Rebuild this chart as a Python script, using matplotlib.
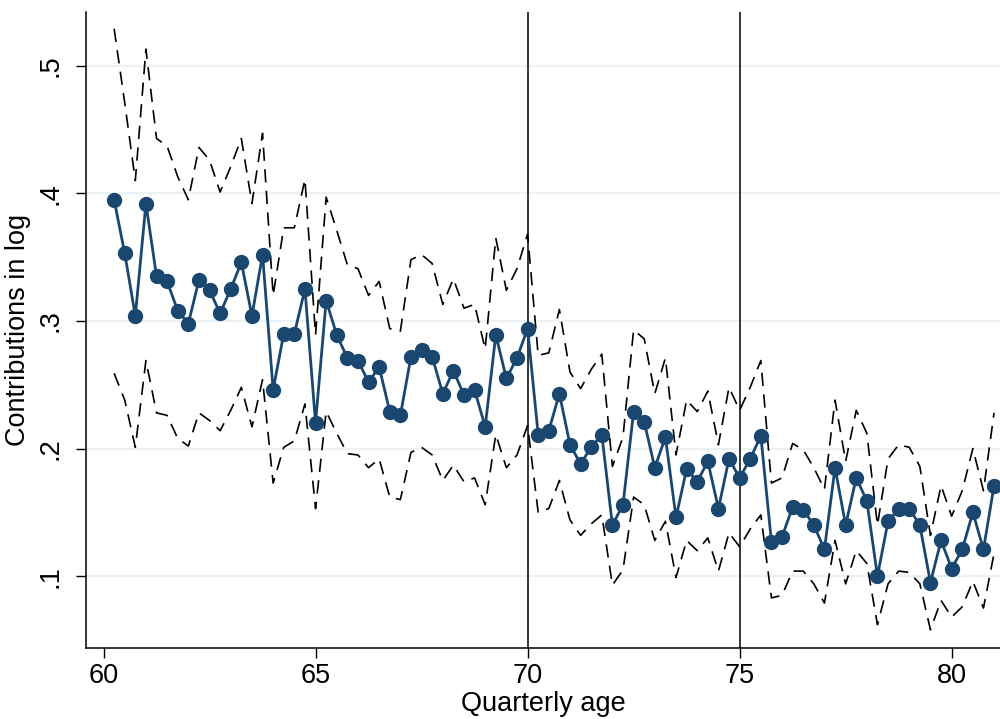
import matplotlib
matplotlib.use('Agg')
import matplotlib.pyplot as plt
import numpy as np

plt.rcParams['font.family'] = ['Liberation Sans', 'DejaVu Sans']

# quarterly age 60.25 .. 81
age = np.arange(60.25, 81.01, 0.25)

mean = [0.395, 0.353, 0.304, 0.392, 0.335, 0.331, 0.308, 0.298,
        0.332, 0.324, 0.306, 0.325, 0.346, 0.304, 0.352, 0.246,
        0.290, 0.290, 0.325, 0.220, 0.316, 0.289, 0.271, 0.269,
        0.252, 0.264, 0.229, 0.226, 0.272, 0.277, 0.272, 0.243,
        0.261, 0.242, 0.246, 0.217, 0.289, 0.255, 0.271, 0.294,
        0.211, 0.214, 0.243, 0.203, 0.188, 0.201, 0.211, 0.140,
        0.156, 0.229, 0.221, 0.185, 0.209, 0.146, 0.184, 0.174,
        0.190, 0.153, 0.192, 0.177, 0.192, 0.210, 0.127, 0.131,
        0.154, 0.152, 0.140, 0.121, 0.185, 0.140, 0.177, 0.159,
        0.100, 0.143, 0.153, 0.153, 0.140, 0.095, 0.128, 0.106,
        0.121, 0.150, 0.121, 0.171]

upper = [0.529, 0.471, 0.410, 0.513, 0.443, 0.437, 0.413, 0.395,
         0.436, 0.426, 0.401, 0.421, 0.443, 0.392, 0.447, 0.320,
         0.373, 0.373, 0.411, 0.289, 0.397, 0.371, 0.344, 0.341,
         0.320, 0.331, 0.294, 0.292, 0.348, 0.352, 0.345, 0.313,
         0.333, 0.310, 0.313, 0.278, 0.365, 0.324, 0.341, 0.368,
         0.273, 0.275, 0.309, 0.260, 0.247, 0.262, 0.274, 0.186,
         0.209, 0.293, 0.286, 0.243, 0.271, 0.195, 0.238, 0.229,
         0.245, 0.203, 0.248, 0.230, 0.248, 0.269, 0.173, 0.177,
         0.204, 0.199, 0.185, 0.168, 0.238, 0.190, 0.230, 0.212,
         0.140, 0.192, 0.203, 0.201, 0.186, 0.132, 0.171, 0.147,
         0.167, 0.200, 0.167, 0.228]

lower = [0.259, 0.238, 0.201, 0.269, 0.228, 0.226, 0.208, 0.202,
         0.228, 0.222, 0.214, 0.230, 0.248, 0.217, 0.254, 0.173,
         0.201, 0.206, 0.235, 0.153, 0.229, 0.212, 0.196, 0.195,
         0.185, 0.192, 0.162, 0.160, 0.197, 0.201, 0.195, 0.175,
         0.187, 0.174, 0.177, 0.156, 0.211, 0.185, 0.195, 0.218,
         0.150, 0.153, 0.175, 0.144, 0.132, 0.141, 0.148, 0.093,
         0.105, 0.162, 0.156, 0.128, 0.143, 0.099, 0.128, 0.120,
         0.130, 0.104, 0.134, 0.123, 0.137, 0.148, 0.083, 0.085,
         0.104, 0.104, 0.094, 0.079, 0.128, 0.094, 0.120, 0.110,
         0.062, 0.094, 0.104, 0.103, 0.094, 0.058, 0.081, 0.068,
         0.076, 0.096, 0.075, 0.118]

xticks = [60, 65, 70, 75, 80]
yticks = [0.1, 0.2, 0.3, 0.4, 0.5]
ytick_labels = ['.1', '.2', '.3', '.4', '.5']
vlines = [70, 75]

navy = '#1a476f'

fig = plt.figure(figsize=(10, 7.19), dpi=100)
ax = fig.add_axes([0.086, 0.0987, 0.914, 0.8846])

for y in yticks:
    ax.axhline(y, color='#eaf2f3', lw=1.6, zorder=0)
for v in vlines:
    ax.axvline(v, color='black', lw=1.1, zorder=1)

ax.plot(age, upper, color='black', lw=1.2, linestyle=(0, (8, 5)), zorder=2)
ax.plot(age, lower, color='black', lw=1.2, linestyle=(0, (8, 5)), zorder=2)
ax.plot(age, mean, color=navy, lw=2.0, marker='o', markersize=10,
        markerfacecolor=navy, markeredgecolor=navy, zorder=3)

ax.set_xlim(59.587, 81.14)
ax.set_ylim(0.0437, 0.5421)

ax.set_xticks(xticks)
ax.set_yticks(yticks)
ax.set_yticklabels(ytick_labels, rotation=90, va='center')
ax.tick_params(axis='both', labelsize=19.5, length=7, width=1.0, direction='out')
ax.tick_params(axis='x', pad=4)
ax.tick_params(axis='y', pad=9)

ax.spines['top'].set_visible(False)
ax.spines['right'].set_visible(False)
ax.spines['left'].set_linewidth(1.1)
ax.spines['bottom'].set_linewidth(1.1)

ax.set_xlabel('Quarterly age', fontsize=19.5, labelpad=1)
ax.set_ylabel('Contributions in log', fontsize=19.5, labelpad=5)

fig.savefig('out.png', dpi=100)
